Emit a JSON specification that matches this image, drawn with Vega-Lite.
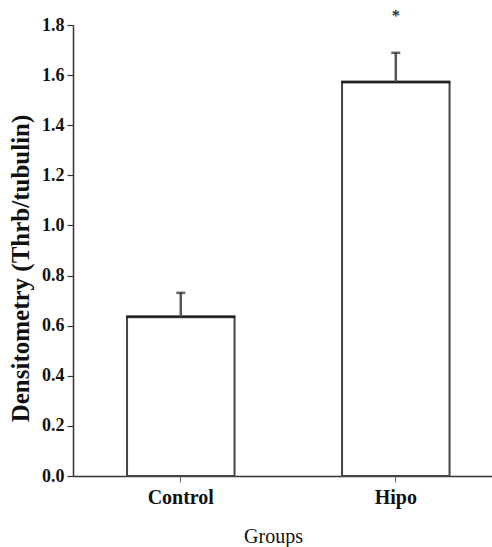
{
  "$schema": "https://vega.github.io/schema/vega-lite/v6.json",
  "width": 419,
  "height": 451,
  "autosize": {"type": "none"},
  "padding": {"left": 73, "top": 25, "right": 0, "bottom": 71},
  "background": "white",
  "config": {
    "view": {"stroke": null},
    "font": "Liberation Serif",
    "text": {"font": "Liberation Serif"}
  },
  "data": {
    "values": [
      {"group": "Control", "mean": 0.636, "hi": 0.731, "sig": ""},
      {"group": "Hipo", "mean": 1.573, "hi": 1.689, "sig": "*"}
    ]
  },
  "encoding": {
    "x": {
      "field": "group",
      "type": "nominal",
      "sort": null,
      "scale": {"type": "band", "paddingInner": 0.5, "paddingOuter": 0.2244, "align": 0.56},
      "axis": {
        "title": "Groups",
        "titleFont": "Times New Roman",
        "titleFontSize": 20,
        "titleFontWeight": "normal",
        "titleColor": "#111",
        "titlePadding": 19,
        "titleX": 200,
        "labelAngle": 0,
        "labelFont": "Times New Roman",
        "labelFontSize": 20,
        "labelFontWeight": "bold",
        "labelColor": "#111",
        "labelPadding": 5,
        "tickSize": 6,
        "tickColor": "#666",
        "tickWidth": 1,
        "domainColor": "#333",
        "domainWidth": 1.5
      }
    }
  },
  "layer": [
    {
      "mark": {"type": "bar", "fill": "white", "stroke": "#444", "strokeWidth": 2},
      "encoding": {
        "y": {
          "field": "mean",
          "type": "quantitative",
          "scale": {"domain": [0, 1.8], "nice": false},
          "axis": {
            "title": "Densitometry (Thrb/tubulin)",
            "titleFont": "Liberation Serif",
            "titleFontSize": 25,
            "titleFontWeight": "bold",
            "titleColor": "#111",
            "titlePadding": 8,
            "titleY": 243,
            "values": [0, 0.1, 0.2, 0.3, 0.4, 0.5, 0.6, 0.7, 0.8, 0.9, 1.0, 1.1, 1.2, 1.3, 1.4, 1.5, 1.6, 1.7, 1.8],
            "labelExpr": "round(datum.value*10) % 2 === 0 ? format(datum.value, '.1f') : ''",
            "labelFont": "serif",
            "labelFontSize": 18,
            "labelFontWeight": "bold",
            "labelColor": "#111",
            "labelPadding": 3,
            "tickSize": {"condition": {"test": "round(datum.value*10) % 2 === 1", "value": 3}, "value": 6},
            "tickColor": "#333",
            "tickWidth": 1.2,
            "domainColor": "#333",
            "domainWidth": 1.5,
            "grid": false
          }
        }
      }
    },
    {
      "mark": {"type": "tick", "color": "#111", "thickness": 3, "size": 109},
      "encoding": {"y": {"field": "mean", "type": "quantitative"}}
    },
    {
      "mark": {"type": "rule", "color": "#555", "strokeWidth": 2.5},
      "encoding": {
        "y": {"field": "mean", "type": "quantitative"},
        "y2": {"field": "hi"}
      }
    },
    {
      "mark": {"type": "tick", "color": "#222", "thickness": 2.5, "size": 9},
      "encoding": {"y": {"field": "hi", "type": "quantitative"}}
    },
    {
      "mark": {"type": "text", "font": "Liberation Serif", "fontSize": 16, "fontWeight": "bold", "color": "#333", "baseline": "middle", "dy": -37},
      "encoding": {
        "y": {"field": "hi", "type": "quantitative"},
        "text": {"field": "sig"}
      }
    }
  ]
}
